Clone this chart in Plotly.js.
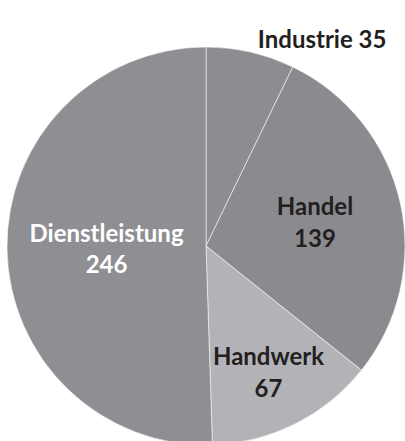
<!DOCTYPE html>
<html><head><meta charset="utf-8">
<script src="https://cdn.plot.ly/plotly-3.0.1.min.js"></script>
<style>html,body{margin:0;padding:0;overflow:hidden;background:#fff}</style>
</head><body><div id="chart"></div>
<script>
const categories = ["Industrie", "Handel", "Handwerk", "Dienstleistung"];
const values = [35, 139, 67, 246];
const colors = ["#8d8d91", "#8b8b8f", "#b3b3b7", "#8f8f93"];
const textColors = ["#231f20", "#231f20", "#231f20", "#ffffff"];
const labelTexts = categories.map((c, i) => i === 0 ? c + " " + values[i] : c + "<br>" + values[i]);
const positions = ["outside", "inside", "inside", "inside"];

Plotly.newPlot("chart", [{
  type: "pie",
  labels: categories,
  values: values,
  text: labelTexts,
  textinfo: "text",
  textposition: positions,
  insidetextorientation: "horizontal",
  sort: false,
  direction: "clockwise",
  rotation: 0,
  marker: {colors: colors, line: {color: "rgba(255,255,255,0.55)", width: 1}},
  textfont: {family: "Lato, sans-serif", size: 25, color: textColors, weight: 700},
  outsidetextfont: {family: "Lato, sans-serif", size: 24, color: "#231f20", weight: 700},
  domain: {x: [7/405, 1], y: [0, 1 - 47/445]},
  automargin: false,
  showlegend: false,
  hoverinfo: "none"
}], {
  width: 405, height: 445,
  margin: {l: 0, r: 0, t: 0, b: 0},
  paper_bgcolor: "#ffffff",
  showlegend: false,
  uniformtext: {mode: "show", minsize: 24}
}, {staticPlot: true, displayModeBar: false});
</script></body></html>
